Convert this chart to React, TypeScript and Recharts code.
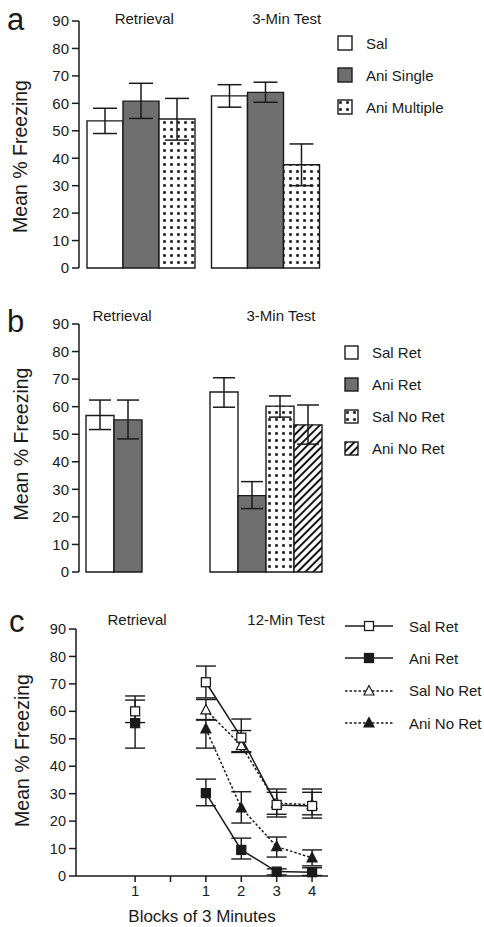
import React from 'react';
import { BarChart, Bar, LineChart, Line, XAxis, YAxis, ErrorBar, Legend } from 'recharts';

const FONT = '"Liberation Sans", Arial, Helvetica, sans-serif';
const INK = '#1a1a1a';
const GREY = '#6f6f6f';
const Y_TICKS = [0, 10, 20, 30, 40, 50, 60, 70, 80, 90];
const TOP_AXIS_H = 16;

// panel a
const phasesA = ['Retrieval', '3-Min Test'];
const salA = [53.6, 62.7];
const salALow = [49.0, 58.6];
const salAHigh = [58.2, 66.8];
const aniSingleA = [60.8, 64.0];
const aniSingleALow = [54.5, 60.4];
const aniSingleAHigh = [67.3, 67.7];
const aniMultipleA = [54.3, 37.6];
const aniMultipleALow = [46.6, 30.0];
const aniMultipleAHigh = [61.8, 45.2];

// panel b
const phasesB = ['Retrieval', '3-Min Test'];
const salRetB = [56.8, 65.3];
const salRetBLow = [51.7, 59.8];
const salRetBHigh = [62.4, 70.5];
const aniRetB = [55.2, 27.7];
const aniRetBLow = [48.3, 23.0];
const aniRetBHigh = [62.4, 32.8];
const salNoRetB = [null, 60.2];
const salNoRetBLow = [null, 56.2];
const salNoRetBHigh = [null, 63.9];
const aniNoRetB = [null, 53.4];
const aniNoRetBLow = [null, 46.4];
const aniNoRetBHigh = [null, 60.6];

// panel c: slot 1 = retrieval, slot 2 = gap, slots 3-6 = test blocks 1-4
const slotsC = [1, 2, 3, 4, 5, 6];
const slotLabelsC = ['1', '', '1', '2', '3', '4'];
const phaseSlotsC = [1, 4.5];
const phasesC = ['Retrieval', '12-Min Test'];
const salRetC = [60.0, null, 70.6, 50.4, 25.9, 25.5];
const salRetCLow = [55.9, null, 64.9, 45.3, 21.5, 21.1];
const salRetCHigh = [64.1, null, 76.5, 57.2, 31.7, 31.7];
const aniRetC = [55.7, null, 30.2, 9.5, 1.6, 1.4];
const aniRetCLow = [46.6, null, 25.6, 6.2, 0.4, 0.2];
const aniRetCHigh = [65.6, null, 35.3, 13.8, 2.6, 3.0];
const salNoRetC = [null, null, 60.5, 47.5, 26.5, 26.0];
const salNoRetCLow = [null, null, 57.0, 45.0, 22.5, 22.3];
const salNoRetCHigh = [null, null, 64.3, 53.0, 30.5, 30.5];
const aniNoRetC = [null, null, 53.6, 24.8, 10.7, 6.6];
const aniNoRetCLow = [null, null, 46.6, 19.3, 6.9, 3.7];
const aniNoRetCHigh = [null, null, 56.8, 30.7, 14.2, 9.5];

const spread = (v: number | null, lo: number | null, hi: number | null) =>
  v == null || lo == null || hi == null ? null : [v - lo, hi - v];

// pos = centre of each category band on a 0..2 frame axis
const dataA = phasesA.map((phase, i) => ({
  phase,
  pos: i + 0.5,
  sal: salA[i],
  salErr: spread(salA[i], salALow[i], salAHigh[i]),
  aniSingle: aniSingleA[i],
  aniSingleErr: spread(aniSingleA[i], aniSingleALow[i], aniSingleAHigh[i]),
  aniMultiple: aniMultipleA[i],
  aniMultipleErr: spread(aniMultipleA[i], aniMultipleALow[i], aniMultipleAHigh[i]),
}));

const dataB = phasesB.map((phase, i) => ({
  phase,
  pos: i + 0.5,
  salRet: salRetB[i],
  salRetErr: spread(salRetB[i], salRetBLow[i], salRetBHigh[i]),
  aniRet: aniRetB[i],
  aniRetErr: spread(aniRetB[i], aniRetBLow[i], aniRetBHigh[i]),
  salNoRet: salNoRetB[i],
  salNoRetErr: spread(salNoRetB[i], salNoRetBLow[i], salNoRetBHigh[i]),
  aniNoRet: aniNoRetB[i],
  aniNoRetErr: spread(aniNoRetB[i], aniNoRetBLow[i], aniNoRetBHigh[i]),
}));

const dataC = slotsC.map((slot, i) => ({
  slot,
  salRet: salRetC[i],
  salRetErr: spread(salRetC[i], salRetCLow[i], salRetCHigh[i]),
  aniRet: aniRetC[i],
  aniRetErr: spread(aniRetC[i], aniRetCLow[i], aniRetCHigh[i]),
  salNoRet: salNoRetC[i],
  salNoRetErr: spread(salNoRetC[i], salNoRetCLow[i], salNoRetCHigh[i]),
  aniNoRet: aniNoRetC[i],
  aniNoRetErr: spread(aniNoRetC[i], aniNoRetCLow[i], aniNoRetCHigh[i]),
}));

const seriesA = [
  { key: 'sal', name: 'Sal', fill: '#fff' },
  { key: 'aniSingle', name: 'Ani Single', fill: GREY },
  { key: 'aniMultiple', name: 'Ani Multiple', fill: 'url(#dots)' },
];

const seriesB = [
  { key: 'salRet', name: 'Sal Ret', fill: '#fff' },
  { key: 'aniRet', name: 'Ani Ret', fill: GREY },
  { key: 'salNoRet', name: 'Sal No Ret', fill: 'url(#dots)' },
  { key: 'aniNoRet', name: 'Ani No Ret', fill: 'url(#hatch)' },
];

// legend order
const seriesC = [
  { key: 'salRet', name: 'Sal Ret', shape: 'square', filled: false, dash: undefined },
  { key: 'aniRet', name: 'Ani Ret', shape: 'square', filled: true, dash: undefined },
  { key: 'salNoRet', name: 'Sal No Ret', shape: 'triangle', filled: false, dash: '2.5 2' },
  { key: 'aniNoRet', name: 'Ani No Ret', shape: 'triangle', filled: true, dash: '2.5 2' },
];
// drawing order (Sal Ret on top)
const drawOrderC = ['salNoRet', 'aniNoRet', 'aniRet', 'salRet'];

const axisStroke = { stroke: INK, strokeWidth: 1.5 };

const YLabel = ({ viewBox, shift = 0, left = 20 }: any) => {
  const x = (viewBox?.x ?? 0) + left;
  const y = (viewBox?.y ?? 0) + (viewBox?.height ?? 0) / 2 + shift;
  return (
    <text
      x={x}
      y={y}
      transform={`rotate(-90 ${x} ${y})`}
      textAnchor="middle"
      dominantBaseline="central"
      fontSize={19.5}
      fill={INK}
      fontFamily={FONT}
    >
      Mean % Freezing
    </text>
  );
};

const PhaseTick = ({ x, y, index, shifts, dy, labels, payload }: any) => (
  <text x={x + shifts[index]} y={y + dy} textAnchor="middle" fontSize={15} fill={INK} fontFamily={FONT}>
    {labels[index] ?? payload?.value}
  </text>
);

const Marker = ({ cx, cy, shape, filled }: any) => {
  if (cx == null || cy == null || Number.isNaN(cx) || Number.isNaN(cy)) return null;
  const fill = filled ? INK : '#fff';
  if (shape === 'square') {
    return <rect x={cx - 4.5} y={cy - 4.5} width={9} height={9} fill={fill} stroke={INK} strokeWidth={1.3} />;
  }
  return (
    <polygon
      points={`${cx},${cy - 5.5} ${cx + 5},${cy + 4} ${cx - 5},${cy + 4}`}
      fill={fill}
      stroke={INK}
      strokeWidth={1.2}
    />
  );
};

const BoxKey = ({ items, box, rowHeight, gap }: any) => (
  <div style={{ fontFamily: FONT, fontSize: 15, color: INK, whiteSpace: 'nowrap' }}>
    {items.map((s: any) => (
      <div key={s.key} style={{ display: 'flex', alignItems: 'center', height: rowHeight }}>
        <svg width={box + 2} height={box + 2} style={{ display: 'block' }}>
          <rect x={1} y={1} width={box} height={box} fill={s.fill} stroke={INK} strokeWidth={1.4} />
        </svg>
        <span style={{ marginLeft: gap }}>{s.name}</span>
      </div>
    ))}
  </div>
);

const LineKey = () => (
  <div style={{ fontFamily: FONT, fontSize: 15, color: INK, whiteSpace: 'nowrap' }}>
    {seriesC.map((s) => (
      <div key={s.key} style={{ display: 'flex', alignItems: 'center', height: 32.3 }}>
        <svg width={48} height={14} style={{ display: 'block' }}>
          <line x1={0} y1={7} x2={48} y2={7} stroke={INK} strokeWidth={1.5} strokeDasharray={s.dash} />
          <Marker cx={24} cy={7} shape={s.shape} filled={s.filled} />
        </svg>
        <span style={{ marginLeft: 16 }}>{s.name}</span>
      </div>
    ))}
  </div>
);

function PanelA() {
  return (
    <BarChart
      width={484}
      height={290}
      data={dataA}
      margin={{ top: 21 - TOP_AXIS_H, right: 156, bottom: 0, left: 0 }}
      barGap={0}
      barCategoryGap={8}
    >
      <XAxis dataKey="phase" hide />
      <XAxis
        xAxisId="top"
        dataKey="phase"
        orientation="top"
        height={TOP_AXIS_H}
        axisLine={false}
        tickLine={false}
        tickSize={0}
        tickMargin={0}
        interval={0}
        tick={<PhaseTick shifts={[3, 21]} dy={2.5} labels={phasesA} />}
      />
      <XAxis
        xAxisId="frame"
        dataKey="pos"
        type="number"
        domain={[0, 2]}
        allowDataOverflow
        ticks={[1]}
        interval={0}
        height={22}
        tickSize={5}
        tickFormatter={() => ''}
        axisLine={axisStroke}
        tickLine={axisStroke}
      />
      <YAxis
        domain={[0, 90]}
        ticks={Y_TICKS}
        width={79}
        tickSize={7}
        tickMargin={3}
        interval={0}
        axisLine={axisStroke}
        tickLine={axisStroke}
        tick={{ fontSize: 15, fill: INK, fontFamily: FONT }}
        label={<YLabel shift={12} left={20} />}
      />
      <Legend
        layout="vertical"
        align="center"
        verticalAlign="middle"
        wrapperStyle={{ left: 337, top: 27, width: 140 }}
        content={() => <BoxKey items={seriesA} box={14} rowHeight={32} gap={13} />}
      />
      {seriesA.map((s) => (
        <Bar key={s.key} dataKey={s.key} name={s.name} fill={s.fill} stroke={INK} strokeWidth={1.4} isAnimationActive={false}>
          <ErrorBar dataKey={`${s.key}Err`} width={12} stroke={INK} strokeWidth={1.5} direction="y" />
        </Bar>
      ))}
    </BarChart>
  );
}

function PanelB() {
  return (
    <BarChart
      width={484}
      height={300}
      data={dataB}
      margin={{ top: 34 - TOP_AXIS_H, right: 157, bottom: 0, left: 0 }}
      barGap={0}
      barCategoryGap={7}
    >
      <XAxis dataKey="phase" hide />
      <XAxis
        xAxisId="top"
        dataKey="phase"
        orientation="top"
        height={TOP_AXIS_H}
        axisLine={false}
        tickLine={false}
        tickSize={0}
        tickMargin={0}
        interval={0}
        tick={<PhaseTick shifts={[-19, 16]} dy={-3.5} labels={phasesB} />}
      />
      <XAxis
        xAxisId="frame"
        dataKey="pos"
        type="number"
        domain={[0, 2]}
        allowDataOverflow
        ticks={[0.79]}
        interval={0}
        height={18}
        tickSize={5}
        tickFormatter={() => ''}
        axisLine={axisStroke}
        tickLine={axisStroke}
      />
      <YAxis
        domain={[0, 90]}
        ticks={Y_TICKS}
        width={79}
        tickSize={7}
        tickMargin={3}
        interval={0}
        axisLine={axisStroke}
        tickLine={axisStroke}
        tick={{ fontSize: 15, fill: INK, fontFamily: FONT }}
        label={<YLabel shift={-4} left={21} />}
      />
      <Legend
        layout="vertical"
        align="center"
        verticalAlign="middle"
        wrapperStyle={{ left: 344, top: 46, width: 140 }}
        content={() => <BoxKey items={seriesB} box={13} rowHeight={32} gap={13} />}
      />
      {seriesB.map((s) => (
        <Bar key={s.key} dataKey={s.key} name={s.name} fill={s.fill} stroke={INK} strokeWidth={1.4} isAnimationActive={false}>
          <ErrorBar dataKey={`${s.key}Err`} width={11} stroke={INK} strokeWidth={1.5} direction="y" />
        </Bar>
      ))}
    </BarChart>
  );
}

function PanelC() {
  return (
    <LineChart width={484} height={337} data={dataC} margin={{ top: 39 - TOP_AXIS_H, right: 156, bottom: 0, left: 0 }}>
      <XAxis
        dataKey="slot"
        type="number"
        domain={[-0.67, 6.45]}
        allowDataOverflow
        ticks={slotsC}
        interval={0}
        height={51}
        tickSize={6}
        tickMargin={3}
        tickFormatter={(v: number) => slotLabelsC[slotsC.indexOf(v)] ?? ''}
        axisLine={axisStroke}
        tickLine={axisStroke}
        tick={{ fontSize: 15, fill: INK, fontFamily: FONT }}
        label={{ value: 'Blocks of 3 Minutes', position: 'insideBottom', offset: 5, fontSize: 17, fill: INK, fontFamily: FONT }}
      />
      <XAxis
        xAxisId="top"
        dataKey="slot"
        type="number"
        domain={[-0.67, 6.45]}
        allowDataOverflow
        ticks={phaseSlotsC}
        interval={0}
        orientation="top"
        height={TOP_AXIS_H}
        axisLine={false}
        tickLine={false}
        tickSize={0}
        tickMargin={0}
        tick={<PhaseTick shifts={[2, 27]} dy={-4.5} labels={phasesC} />}
      />
      <YAxis
        domain={[0, 90]}
        ticks={Y_TICKS}
        width={76}
        tickSize={7}
        tickMargin={3}
        interval={0}
        axisLine={axisStroke}
        tickLine={axisStroke}
        tick={{ fontSize: 14.5, fill: INK, fontFamily: FONT }}
        label={<YLabel shift={-2} left={22} />}
      />
      <Legend
        layout="vertical"
        align="center"
        verticalAlign="middle"
        wrapperStyle={{ left: 345, top: 20, width: 139 }}
        content={() => <LineKey />}
      />
      {drawOrderC.map((k) => {
        const s = seriesC.find((e) => e.key === k)!;
        return (
          <Line
            key={s.key}
            dataKey={s.key}
            name={s.name}
            type="linear"
            stroke={INK}
            strokeWidth={1.5}
            strokeDasharray={s.dash}
            activeDot={false}
            isAnimationActive={false}
            dot={(p: any) => <Marker key={`${s.key}-${p.index}`} cx={p.cx} cy={p.cy} shape={s.shape} filled={s.filled} />}
          >
            <ErrorBar dataKey={`${s.key}Err`} width={10} stroke={INK} strokeWidth={1.4} direction="y" />
          </Line>
        );
      })}
    </LineChart>
  );
}

export default function App() {
  return (
    <div style={{ position: 'absolute', left: 0, top: 0, width: 484, height: 927, background: '#fff', fontFamily: FONT }}>
      <svg width={0} height={0} style={{ position: 'absolute' }}>
        <defs>
          <pattern id="dots" width="7" height="7" patternUnits="userSpaceOnUse">
            <rect width="7" height="7" fill="#fff" />
            <rect x="2.2" y="2.2" width="2.6" height="2.6" fill="#111" />
          </pattern>
          <pattern id="hatch" width="5.5" height="5.5" patternUnits="userSpaceOnUse" patternTransform="rotate(45)">
            <rect width="5.5" height="5.5" fill="#fff" />
            <line x1="2.75" y1="0" x2="2.75" y2="5.5" stroke="#111" strokeWidth="2" />
          </pattern>
        </defs>
      </svg>
      <div style={{ position: 'absolute', left: 0, top: 0 }}>
        <PanelA />
      </div>
      <div style={{ position: 'absolute', left: 0, top: 290 }}>
        <PanelB />
      </div>
      <div style={{ position: 'absolute', left: 0, top: 590 }}>
        <PanelC />
      </div>
      <svg width={40} height={927} style={{ position: 'absolute', left: 0, top: 0, pointerEvents: 'none' }}>
        <text x={7} y={30} fontSize={31} fill={INK} fontFamily={FONT}>a</text>
        <text x={7} y={332} fontSize={31} fill={INK} fontFamily={FONT}>b</text>
        <text x={9} y={632} fontSize={31} fill={INK} fontFamily={FONT}>c</text>
      </svg>
    </div>
  );
}
